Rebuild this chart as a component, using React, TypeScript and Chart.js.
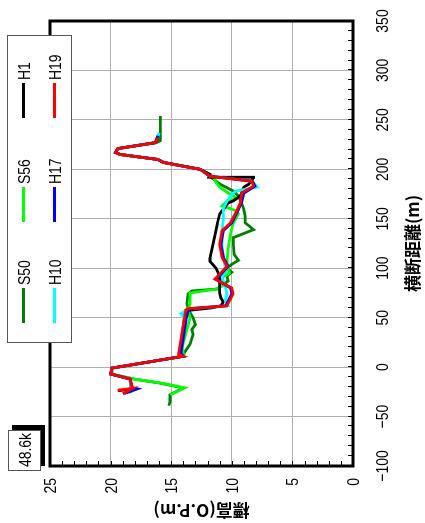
import React, { useEffect, useRef } from "react";
import { Chart, registerables } from "chart.js";

Chart.register(...registerables);

// ---- data (distance m, elevation O.P.m) ----
const s50Dist = [-39, -35, -28, -21, -16, -12, -7, -1, 11, 15, 23, 33, 38, 43, 50, 55, 64, 74, 77, 79, 87, 92, 96, 100, 104, 108, 114, 124, 131, 139, 146, 153, 161, 173, 178, 185, 190, 193, 200, 207, 210, 215, 217, 221, 227, 229, 254];
const s50Elev = [15.2, 15.1, 15.1, 14.0, 16.0, 18.1, 19.9, 19.9, 14.0, 13.9, 13.45, 13.2, 13.3, 13.0, 13.2, 13.45, 13.7, 13.6, 13.3, 11.2, 10.3, 10.4, 10.0, 10.4, 10.0, 9.45, 9.8, 9.87, 9.87, 8.2, 8.9, 8.9, 9.04, 9.45, 9.87, 10.97, 11.5, 11.8, 12.6, 15.6, 16.1, 19.2, 19.6, 19.4, 16.2, 15.9, 15.9];

const s56Dist = [-28, -21, -16, -12, -7, -1, 11, 13, 20, 50, 57, 64, 75, 79, 84, 90, 95, 105, 120, 135, 145, 155, 158, 163, 166, 171, 176, 182, 187, 192, 195, 200, 207, 210, 215, 217, 221, 227, 232];
const s56Elev = [15.1, 13.9, 15.9, 18.1, 19.9, 19.9, 14.0, 14.0, 14.1, 13.45, 13.6, 13.45, 13.45, 11.2, 10.6, 10.9, 10.2, 10.4, 10.3, 10.1, 9.9, 9.45, 9.6, 10.8, 10.55, 9.6, 10.3, 11.0, 11.3, 11.5, 11.9, 12.6, 15.65, 16.1, 19.2, 19.6, 19.4, 16.3, 16.1];

const h1Dist = [-27, -22, -24, -22, -12, -7, -1, 11, 14, 57, 60, 62, 66, 70, 75, 92, 100, 107, 110, 133, 145, 155, 158, 166, 168, 173, 182, 185, 191.5, 192, 195, 200, 207, 210, 215, 217, 221, 227, 232];
const h1Elev = [18.9, 18.3, 19.4, 18.3, 18.4, 20.0, 19.9, 14.0, 14.3, 13.85, 11.6, 10.9, 10.7, 10.9, 11.0, 11.0, 11.3, 11.8, 11.8, 11.4, 11.2, 11.0, 10.8, 10.3, 9.9, 9.3, 9.0, 8.6, 8.2, 11.9, 11.8, 12.6, 15.65, 16.1, 19.2, 19.6, 19.4, 16.3, 16.1];

const h10Dist = [-26, -22, -21, -12, -7, -1, 11, 14, 50, 54, 57, 59, 62, 67, 74, 80, 86, 92, 96, 101, 121, 137, 151, 160, 168, 173, 178, 182, 188, 193, 200, 207, 210, 215, 217, 221, 227, 237];
const h10Elev = [18.5, 17.9, 18.3, 18.4, 20.0, 19.9, 14.0, 14.3, 13.9, 14.2, 13.8, 13.6, 10.3, 10.55, 10.4, 10.5, 10.7, 10.8, 10.5, 10.55, 10.8, 10.8, 10.7, 10.7, 10.4, 10.1, 9.7, 7.9, 8.3, 11.8, 12.6, 15.65, 16.1, 19.2, 19.6, 19.4, 16.3, 16.0];

const h17Dist = [-26, -22, -21, -12, -7, -1, 11, 14, 50, 57, 59, 62, 74, 80, 89, 94, 102, 111, 124, 138, 146, 158, 166, 176, 183, 188, 193, 200, 207, 210, 215, 217, 221, 227, 234];
const h17Elev = [18.7, 17.8, 18.2, 18.4, 20.0, 19.9, 14.0, 14.2, 13.75, 13.6, 13.5, 10.5, 10.0, 10.1, 11.3, 10.9, 10.3, 10.7, 10.9, 10.7, 10.0, 9.5, 9.2, 9.0, 8.1, 8.3, 11.8, 12.6, 15.65, 16.1, 19.2, 19.6, 19.4, 16.3, 16.1];

const h19Dist = [-27, -21.6, -23.3, -21.6, -12, -7, -1, 11, 13, 50, 57, 59, 62, 74, 80, 89, 94, 102, 111, 124, 138, 146, 158, 166, 176, 183, 188, 193, 200, 207, 210, 215, 217, 221, 227, 232];
const h19Elev = [19.0, 18.2, 19.4, 18.2, 18.4, 20.0, 19.9, 14.0, 14.4, 13.9, 13.8, 13.7, 10.4, 9.9, 10.0, 11.4, 11.0, 10.4, 10.8, 11.0, 10.8, 10.1, 9.6, 9.3, 9.2, 8.2, 8.35, 11.8, 12.6, 15.65, 16.1, 19.2, 19.6, 19.4, 16.3, 16.1];

const seriesNames = ["S50", "S56", "H1", "H10", "H17", "H19"];
const seriesColors = ["#008000", "#00ff00", "#000000", "#00ffff", "#0000ff", "#ff0000"];
const seriesDist = [s50Dist, s56Dist, h1Dist, h10Dist, h17Dist, h19Dist];
const seriesElev = [s50Elev, s56Elev, h1Elev, h10Elev, h17Elev, h19Elev];

const xTickValues = [-100, -50, 0, 50, 100, 150, 200, 250, 300, 350];
const yTickValues = [0, 5, 10, 15, 20, 25];
const xTitle = "横断距離(m)";
const yTitle = "標高(O.P.m)";
const sectionLabel = "48.6k";

const CJK_FONT = '"Noto Sans CJK JP", sans-serif';
const NARROW_FONT = '17px "Liberation Sans", Arial, sans-serif';
const NARROW = 0.82;

const W = 523;
const H = 425;

const fmt = (v: number) => String(v).replace("-", "\u2212");

function narrowText(ctx: CanvasRenderingContext2D, text: string, x: number, y: number, align: CanvasTextAlign) {
  ctx.save();
  ctx.font = NARROW_FONT;
  ctx.textAlign = align;
  ctx.textBaseline = "alphabetic";
  ctx.fillStyle = "#000";
  ctx.translate(x, y);
  ctx.scale(NARROW, 1);
  ctx.fillText(text, 0, 0);
  ctx.restore();
}

const decorPlugin = {
  id: "decor",
  afterDatasetsDraw(chart: any) {
    const { ctx, chartArea: a, scales } = chart;
    const x = scales.x;
    const y = scales.y;
    ctx.save();
    ctx.strokeStyle = "#000";
    ctx.lineWidth = 1;
    ctx.beginPath();
    for (let d = x.min; d <= x.max; d += 10) {
      const px = Math.round(x.getPixelForValue(d)) + 0.5;
      ctx.moveTo(px, a.bottom);
      ctx.lineTo(px, a.bottom - 5);
    }
    for (let e = y.min; e <= y.max; e += 1) {
      const py = Math.round(y.getPixelForValue(e)) + 0.5;
      ctx.moveTo(a.left, py);
      ctx.lineTo(a.left + 5, py);
    }
    ctx.stroke();
    ctx.lineWidth = 3;
    ctx.strokeRect(a.left, a.top, a.right - a.left, a.bottom - a.top);
    ctx.restore();
    // tick labels
    x.ticks.forEach((t: any) => {
      narrowText(ctx, fmt(t.value), x.getPixelForValue(t.value), a.bottom + 34.5, "center");
    });
    y.ticks.forEach((t: any) => {
      narrowText(ctx, fmt(t.value), a.left - 12, y.getPixelForValue(t.value) + 6, "right");
    });
  },
  afterDraw(chart: any) {
    const { ctx } = chart;
    ctx.save();
    // legend box
    const lx = 180, ly = 7, lw = 307, lh = 64;
    ctx.fillStyle = "#fff";
    ctx.fillRect(lx, ly, lw, lh);
    ctx.strokeStyle = "#555";
    ctx.lineWidth = 1;
    ctx.strokeRect(lx + 0.5, ly + 0.5, lw, lh);
    const cols = [200, 301, 405];
    const rows = [23.5, 54.5];
    seriesNames.forEach((name, i) => {
      const cx = cols[i % 3];
      const cy = rows[Math.floor(i / 3)];
      ctx.strokeStyle = seriesColors[i];
      ctx.lineWidth = 3;
      ctx.beginPath();
      ctx.moveTo(cx, cy);
      ctx.lineTo(cx + 35, cy);
      ctx.stroke();
      narrowText(ctx, name, cx + 38, cy + 6.5, "left");
    });
    // section label box with shadow
    ctx.fillStyle = "#000";
    ctx.fillRect(57, 12, 41, 33);
    ctx.fillStyle = "#fff";
    ctx.fillRect(52, 8, 41, 33);
    ctx.strokeStyle = "#555";
    ctx.lineWidth = 1;
    ctx.strokeRect(52.5, 8.5, 40, 32);
    narrowText(ctx, sectionLabel, 73, 31, "center");
    ctx.restore();
  },
};

export default function App() {
  const ref = useRef<HTMLCanvasElement>(null);
  useEffect(() => {
    if (!ref.current) return;
    const n = seriesNames.length;
    const datasets = seriesNames.map((name, i) => ({
      label: name,
      data: seriesDist[i].map((d, j) => ({ x: d, y: seriesElev[i][j] })),
      showLine: true,
      borderColor: seriesColors[i],
      backgroundColor: seriesColors[i],
      borderWidth: 2.8,
      pointRadius: 0,
      tension: 0,
      fill: false,
      order: n - 1 - i,
    }));
    const noPad = (s: any) => {
      s.paddingLeft = 0;
      s.paddingRight = 0;
      s.paddingTop = 0;
      s.paddingBottom = 0;
    };
    const chart = new Chart(ref.current, {
      type: "scatter",
      data: { datasets },
      options: {
        animation: false,
        responsive: false,
        devicePixelRatio: 1,
        layout: { padding: { left: 0, right: 21, top: 50, bottom: 0 } },
        plugins: { legend: { display: false }, tooltip: { enabled: false } },
        scales: {
          x: {
            type: "linear",
            min: -100,
            max: 350,
            afterBuildTicks: (s: any) => {
              s.ticks = xTickValues.map((v) => ({ value: v }));
            },
            afterFit: (s: any) => {
              s.height = 72;
              noPad(s);
            },
            ticks: { display: false },
            grid: { color: "#b0b0b0", lineWidth: 1, drawTicks: false },
            border: { display: false },
            title: { display: true, text: xTitle, color: "#000", font: { family: CJK_FONT, size: 17, weight: "bold" }, padding: { top: 0, bottom: 2 } },
          },
          y: {
            type: "linear",
            min: 0,
            max: 25,
            afterBuildTicks: (s: any) => {
              s.ticks = yTickValues.map((v) => ({ value: v }));
            },
            afterFit: (s: any) => {
              s.width = 57;
              noPad(s);
            },
            ticks: { display: false },
            grid: { color: "#b0b0b0", lineWidth: 1, drawTicks: false },
            border: { display: false },
            title: { display: true, text: yTitle, color: "#000", font: { family: CJK_FONT, size: 17, weight: "bold" }, padding: { top: 2, bottom: 0 } },
          },
        },
      },
      plugins: [decorPlugin],
    } as any);
    return () => chart.destroy();
  }, []);
  return (
    <div
      style={{
        position: "fixed",
        left: 0,
        top: 0,
        width: W,
        height: H,
        background: "#fff",
        transformOrigin: "0 0",
        transform: `translateY(${W}px) rotate(-90deg)`,
      }}
    >
      <canvas ref={ref} width={W} height={H} style={{ display: "block", width: W, height: H }} />
    </div>
  );
}
